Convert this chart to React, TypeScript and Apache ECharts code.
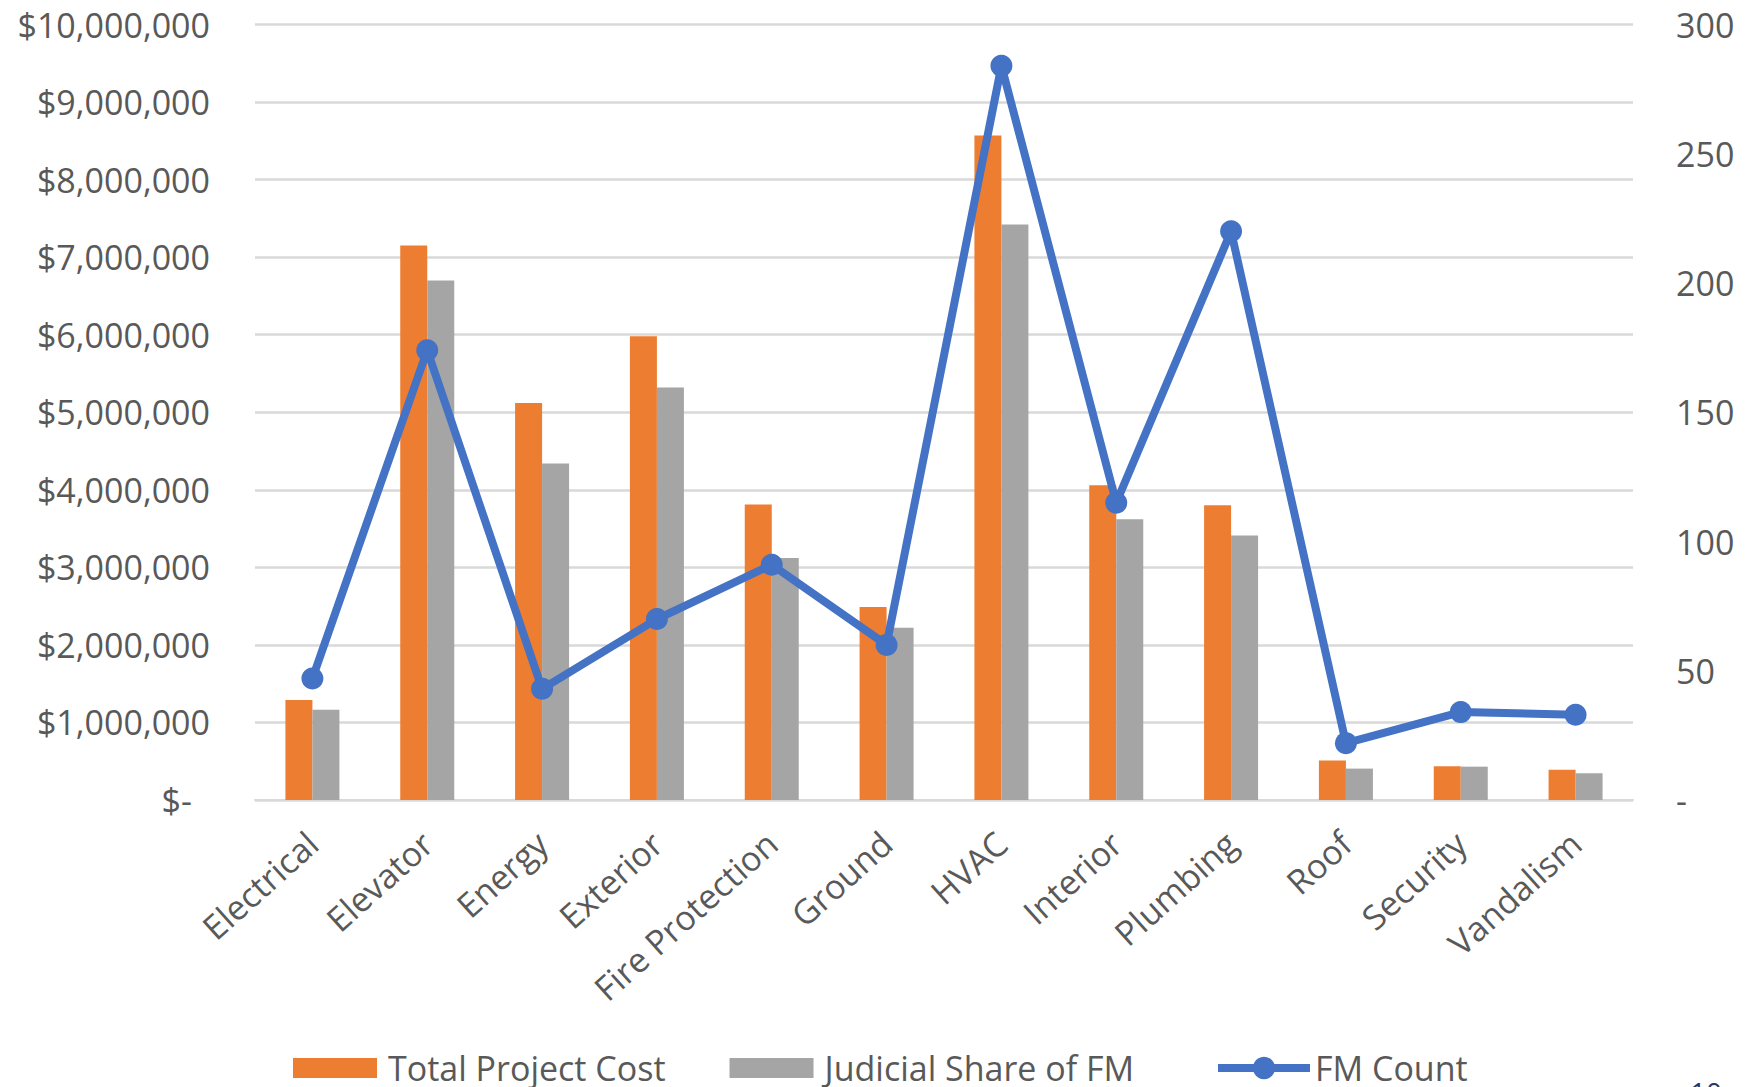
import React, { useEffect, useRef } from "react";
import * as echarts from "echarts";

const categories = [
  "Electrical",
  "Elevator",
  "Energy",
  "Exterior",
  "Fire Protection",
  "Ground",
  "HVAC",
  "Interior",
  "Plumbing",
  "Roof",
  "Security",
  "Vandalism",
];

const totalProjectCost = [
  1290000, 7150000, 5120000, 5980000, 3810000, 2490000, 8570000, 4060000, 3800000, 510000, 435000, 390000,
];

const judicialShare = [
  1165000, 6700000, 4340000, 5320000, 3120000, 2220000, 7420000, 3620000, 3410000, 405000, 430000, 345000,
];

const fmCount = [47, 174, 43, 70, 91, 60, 284, 115, 220, 22, 34, 33];

const leftTicks = { min: 0, max: 10000000, interval: 1000000 };
const rightTicks = { min: 0, max: 300, interval: 50 };

const FONT = "'Open Sans', 'Noto Sans', sans-serif";
const TEXT = "#595959";

export default function App() {
  const ref = useRef<HTMLDivElement>(null);

  useEffect(() => {
    if (!ref.current) return;
    const chart = echarts.init(ref.current, undefined, { renderer: "svg" });
    chart.setOption({
      animation: false,
      backgroundColor: "#ffffff",
      textStyle: { fontFamily: FONT },
      grid: { left: 255, right: 119, top: 24.5, bottom: 287, containLabel: false },
      legend: [
        {
          left: 293,
          top: 1051,
          padding: 0,
          itemWidth: 84,
          itemHeight: 20,
          itemGap: 64,
          textStyle: { fontFamily: FONT, fontSize: 34, color: TEXT, padding: [0, 0, 0, 6] },
          data: [
            { name: "Total Project Cost", icon: "rect" },
            { name: "Judicial Share of FM", icon: "rect" },
          ],
        },
        {
          left: 1214,
          top: 1051,
          padding: 0,
          itemWidth: 92,
          itemHeight: 28,
          textStyle: { fontFamily: FONT, fontSize: 34, color: TEXT, padding: [0, 0, 0, 0] },
          lineStyle: { width: 8, color: "#4472C4" },
          data: [{ name: "FM Count" }],
        },
      ],
      xAxis: {
        type: "category",
        data: categories,
        axisLine: { show: true, lineStyle: { color: "#D9D9D9", width: 2 } },
        axisTick: { show: false },
        axisLabel: {
          rotate: 42,
          margin: 38,
          interval: 0,
          color: TEXT,
          fontSize: 34,
          fontFamily: FONT,
        },
      },
      yAxis: [
        {
          type: "value",
          ...leftTicks,
          position: "left",
          axisLine: { show: false },
          axisTick: { show: false },
          splitLine: { show: true, lineStyle: { color: "#D9D9D9", width: 2.5 } },
          axisLabel: {
            margin: 45,
            color: TEXT,
            fontSize: 34,
            fontFamily: FONT,
            formatter: (v: number) =>
              v === 0 ? "{z|$-}" : "$" + v.toLocaleString("en-US"),
            rich: {
              z: { color: TEXT, fontSize: 34, fontFamily: FONT, padding: [0, 18, 0, 0] },
            },
          },
        },
        {
          type: "value",
          ...rightTicks,
          position: "right",
          axisLine: { show: false },
          axisTick: { show: false },
          splitLine: { show: false },
          axisLabel: {
            margin: 43,
            color: TEXT,
            fontSize: 34,
            fontFamily: FONT,
            formatter: (v: number) => (v === 0 ? "-" : String(v)),
          },
        },
      ],
      series: [
        {
          name: "Total Project Cost",
          type: "bar",
          data: totalProjectCost,
          barWidth: 27,
          barGap: "0%",
          itemStyle: { color: "#ED7D31" },
          z: 2,
        },
        {
          name: "Judicial Share of FM",
          type: "bar",
          data: judicialShare,
          barWidth: 27,
          barGap: "0%",
          itemStyle: { color: "#A5A5A5" },
          z: 2,
        },
        {
          name: "FM Count",
          type: "line",
          yAxisIndex: 1,
          data: fmCount,
          symbol: "circle",
          symbolSize: 22,
          lineStyle: { color: "#4472C4", width: 8 },
          itemStyle: { color: "#4472C4" },
          z: 5,
        },
      ],
      graphic: [
        {
          type: "text",
          left: 1690,
          top: 1078,
          style: {
            text: "10",
            fontSize: 28,
            fontFamily: FONT,
            fill: "#1F3864",
          },
        },
      ],
    });
    return () => chart.dispose();
  }, []);

  return (
    <div
      ref={ref}
      style={{ position: "fixed", left: 0, top: 0, width: 1752, height: 1087, background: "#fff" }}
    />
  );
}
